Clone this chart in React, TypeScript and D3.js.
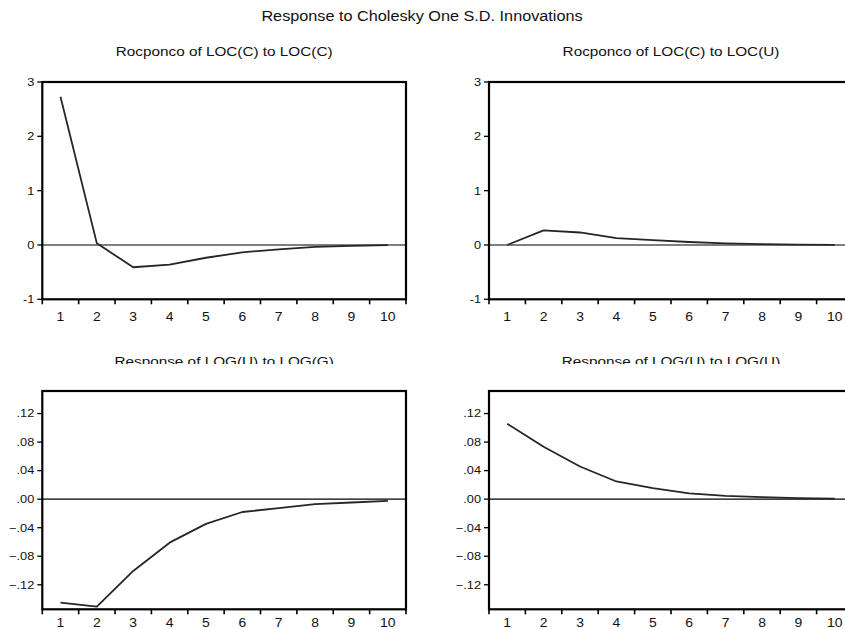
import React from "react";
import * as d3 from "d3";

const periods = [1, 2, 3, 4, 5, 6, 7, 8, 9, 10];
const gToG = [2.73, 0.03, -0.41, -0.36, -0.235, -0.135, -0.08, -0.035, -0.015, -0.003];
const gToU = [0.0, 0.27, 0.23, 0.125, 0.09, 0.055, 0.03, 0.015, 0.008, 0.003];
const uToG = [-0.145, -0.1506, -0.1006, -0.061, -0.0346, -0.018, -0.0126, -0.007, -0.0047, -0.0023];
const uToU = [0.1057, 0.0735, 0.0458, 0.0248, 0.0154, 0.008, 0.0047, 0.0028, 0.0014, 0.0007];
const topTicks = [-1, 0, 1, 2, 3];
const bottomTicks = [-0.12, -0.08, -0.04, 0, 0.04, 0.08, 0.12];
const mainTitle = "Response to Cholesky One S.D. Innovations";
const panelTitles = [
  "Rocponco of LOC(C) to LOC(C)",
  "Rocponco of LOC(C) to LOC(U)",
  "Response of LOG(U) to LOG(G)",
  "Response of LOG(U) to LOG(U)",
];

const FONT = "'Liberation Sans', Arial, Helvetica, sans-serif";
const SX = 1.16;

function SText({ x, y, anchor, size, children, dy }: { x: number; y: number; anchor: "start" | "middle" | "end"; size: number; children: React.ReactNode; dy?: string }) {
  return (
    <g transform={`translate(${x},${y}) scale(${SX},1)`}>
      <text x={0} y={0} dy={dy} textAnchor={anchor} fontSize={size} fontFamily={FONT} fill="#111">
        {children}
      </text>
    </g>
  );
}

type PanelProps = {
  x0: number; x1: number; y0: number; y1: number;
  domain: [number, number]; ticks: number[]; fmt: (v: number) => string;
  values: number[]; title: string; titleY: number; clipTitle?: boolean; labelY: number;
};

function Panel({ x0, x1, y0, y1, domain, ticks, fmt, values, title, titleY, clipTitle, labelY }: PanelProps) {
  const x = d3.scaleBand<number>().domain(periods).range([x0, x1]).padding(0);
  const y = d3.scaleLinear().domain(domain).range([y1, y0]);
  const bw = x.bandwidth();
  const line = d3
    .line<number>()
    .x((_, i) => (x(periods[i]) as number) + bw / 2)
    .y((d) => y(d));
  const bounds = d3.range(periods.length + 1).map((i) => x0 + i * bw);
  const cx = (x0 + x1) / 2;
  return (
    <g>
      <SText x={cx} y={titleY} anchor="middle" size={13.2}>
        {title}
      </SText>
      {clipTitle && <rect x={cx - 160} y={titleY - 1.5} width={320} height={10} fill="#fff" />}
      <line x1={x0} x2={x1} y1={y(0)} y2={y(0)} stroke="#000" strokeWidth={1.2} />
      <path d={line(values) || ""} fill="none" stroke="#262626" strokeWidth={1.8} strokeLinejoin="round" />
      <rect x={x0} y={y0} width={x1 - x0} height={y1 - y0} fill="none" stroke="#000" strokeWidth={2.2} />
      {ticks.map((t) => (
        <g key={t}>
          <line x1={x0 - 5} x2={x0} y1={y(t)} y2={y(t)} stroke="#000" strokeWidth={1.3} />
          <SText x={x0 - 8} y={y(t)} dy="0.35em" anchor="end" size={11}>
            {fmt(t)}
          </SText>
        </g>
      ))}
      {bounds.map((b, i) => (
        <line key={i} x1={b} x2={b} y1={y1} y2={y1 + 5} stroke="#000" strokeWidth={1.6} />
      ))}
      {periods.map((p) => (
        <SText key={p} x={(x(p) as number) + bw / 2} y={labelY} anchor="middle" size={12}>
          {p}
        </SText>
      ))}
    </g>
  );
}

const fmtTop = (v: number) => String(v);
const fmtBottom = (v: number) => d3.format(".2f")(v).replace("0.", ".");

export default function App() {
  const L = [42.3, 406];
  const R = [489, 853];
  const T = [82, 299.3];
  const B = [391, 609.3];
  return (
    <svg width={845} height={629} style={{ position: "absolute", left: 0, top: 0, background: "#fff" }}>
      <rect width={845} height={629} fill="#fff" />
      <SText x={422} y={21} anchor="middle" size={14}>
        {mainTitle}
      </SText>
      <Panel x0={L[0]} x1={L[1]} y0={T[0]} y1={T[1]} domain={[-1, 3]} ticks={topTicks} fmt={fmtTop} values={gToG} title={panelTitles[0]} titleY={55.5} labelY={320.5} />
      <Panel x0={R[0]} x1={R[1]} y0={T[0]} y1={T[1]} domain={[-1, 3]} ticks={topTicks} fmt={fmtTop} values={gToU} title={panelTitles[1]} titleY={55.5} labelY={320.5} />
      <Panel x0={L[0]} x1={L[1]} y0={B[0]} y1={B[1]} domain={[-0.1544, 0.1516]} ticks={bottomTicks} fmt={fmtBottom} values={uToG} title={panelTitles[2]} titleY={365.5} clipTitle labelY={627} />
      <Panel x0={R[0]} x1={R[1]} y0={B[0]} y1={B[1]} domain={[-0.1544, 0.1516]} ticks={bottomTicks} fmt={fmtBottom} values={uToU} title={panelTitles[3]} titleY={365.5} clipTitle labelY={627} />
    </svg>
  );
}
